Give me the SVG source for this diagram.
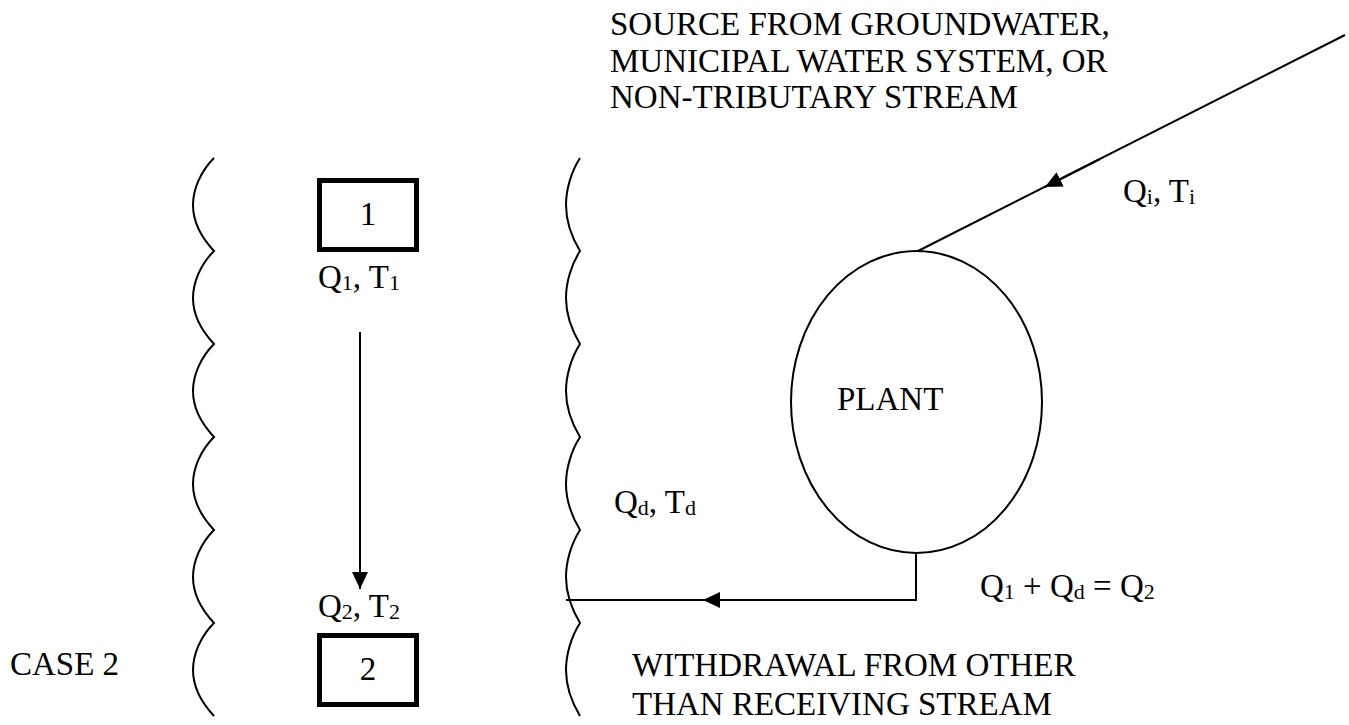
<svg xmlns="http://www.w3.org/2000/svg" width="1349" height="725" viewBox="0 0 1349 725">
<style>
text{font-family:"Liberation Serif","Times New Roman",serif;font-size:33px;fill:#000}
.sub{font-size:22px}
.ln{fill:none;stroke:#000;stroke-width:2}
.box{fill:#fff;stroke:#000;stroke-width:5}
</style>
<defs>
<marker id="ah" markerUnits="userSpaceOnUse" markerWidth="18" markerHeight="16" refX="17" refY="8" orient="auto">
<path d="M0,0 L17,8 L0,16 z" fill="#000"/>
</marker>
<path id="wl" class="ln" d="M0,0 C-14,14 -21,32 -21,47 C-21,62 -14,78 0,93 C-14,107 -21,125 -21,140 C-21,155 -14,171 0,186 C-14,200 -21,218 -21,233 C-21,248 -14,264 0,279 C-14,293 -21,311 -21,326 C-21,341 -14,357 0,372 C-14,386 -21,404 -21,419 C-21,434 -14,450 0,465 C-14,479 -21,497 -21,512 C-21,527 -14,543 0,558"/>
<path id="wr" class="ln" d="M0,0 C-9,14 -14,32 -14,47 C-14,62 -9,78 0,93 C-9,107 -14,125 -14,140 C-14,155 -9,171 0,186 C-9,200 -14,218 -14,233 C-14,248 -9,264 0,279 C-9,293 -14,311 -14,326 C-14,341 -9,357 0,372 C-9,386 -14,404 -14,419 C-14,434 -9,450 0,465 C-9,479 -14,497 -14,512 C-14,527 -9,543 0,558"/>
</defs>
<rect width="1349" height="725" fill="#fff"/>
<g id="stream-left">
<use href="#wl" x="214" y="158"/>
</g>
<g id="stream-right">
<use href="#wr" x="580" y="158"/>
</g>
<g id="node1">
<rect class="box" x="319.5" y="180.5" width="97" height="69"/>
<text x="368" y="225" text-anchor="middle" font-size="35">1</text>
</g>
<g id="node2">
<rect class="box" x="319.5" y="635.5" width="97" height="69"/>
<text x="368" y="680" text-anchor="middle" font-size="35">2</text>
</g>
<g id="plant">
<ellipse class="ln" cx="916.5" cy="402" rx="125.5" ry="151"/>
<text x="837" y="410">PLANT</text>
</g>
<g id="connectors">
<line class="ln" x1="360" y1="332" x2="360" y2="589" marker-end="url(#ah)"/>
<path class="ln" d="M916,553 V600 H566"/>
<line class="ln" x1="916" y1="600" x2="703" y2="600" marker-end="url(#ah)"/>
<line class="ln" x1="1345" y1="35" x2="918" y2="251"/>
<line class="ln" x1="1100" y1="159" x2="1045" y2="187" marker-end="url(#ah)"/>
</g>
<g id="labels">
<text x="610" y="35">SOURCE FROM GROUNDWATER,</text>
<text x="610" y="72">MUNICIPAL WATER SYSTEM, OR</text>
<text x="610" y="108">NON-TRIBUTARY STREAM</text>
<text x="1123" y="202">Q<tspan class="sub" dy="2">i</tspan><tspan dy="-2">, T</tspan><tspan class="sub" dy="2">i</tspan></text>
<text x="318" y="288">Q<tspan class="sub" dy="2">1</tspan><tspan dy="-2">, T</tspan><tspan class="sub" dy="2">1</tspan></text>
<text x="318" y="617">Q<tspan class="sub" dy="2">2</tspan><tspan dy="-2">, T</tspan><tspan class="sub" dy="2">2</tspan></text>
<text x="614" y="513">Q<tspan class="sub" dy="2">d</tspan><tspan dy="-2">, T</tspan><tspan class="sub" dy="2">d</tspan></text>
<text x="980" y="597">Q<tspan class="sub" dy="2">1</tspan><tspan dy="-2"> + Q</tspan><tspan class="sub" dy="2">d</tspan><tspan dy="-2"> = Q</tspan><tspan class="sub" dy="2">2</tspan></text>
<text x="10" y="675">CASE 2</text>
<text x="632" y="676">WITHDRAWAL FROM OTHER</text>
<text x="632" y="715">THAN RECEIVING STREAM</text>
</g>
</svg>
